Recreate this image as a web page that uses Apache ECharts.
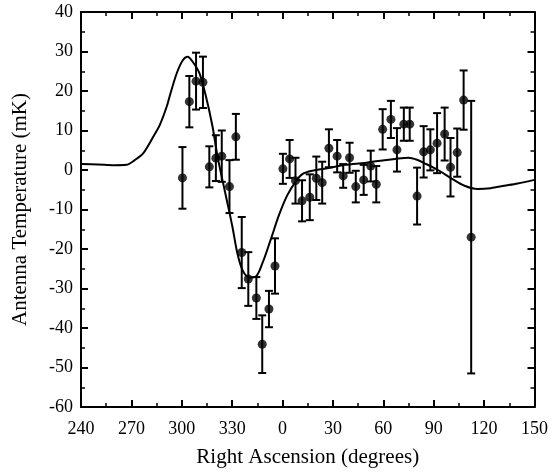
<!DOCTYPE html>
<html>
<head>
<meta charset="utf-8">
<script src="https://cdn.jsdelivr.net/npm/echarts@6/dist/echarts.min.js"></script>
<style>
    html, body { margin: 0; padding: 0; background: #fff; }
    #chart { width: 551px; height: 474px; }
</style>
</head>
<body>
<div id="chart"></div>
<script>
// 观测点：赤经（>360 表示跨过 0 度）、温度、误差
var raPoints = [300.4, 304.5, 308.5, 312.6, 316.4, 320.3, 323.8, 328.4, 332.2, 335.7,
    339.6, 344.4, 347.9, 351.9, 355.5, 360.2, 364.2, 367.7, 371.6, 376.2,
    380.1, 383.6, 387.6, 392.5, 396.1, 399.9, 403.6, 408.3, 412.5, 415.8,
    419.6, 424.5, 428.1, 432.2, 435.7, 440.1, 444, 448, 452, 456.5,
    460, 464, 467.8, 472.3];
var tempPoints = [-2, 17.3, 22.5, 22.2, 0.8, 3.0, 3.5, -4.2, 8.4, -20.9,
    -27.6, -32.4, -44.1, -35.2, -24.3, 0.3, 2.8, -2.7, -7.8, -6.9,
    -2.1, -3.2, 5.5, 3.5, -1.5, 3.1, -4.2, -2.5, 1.0, -3.6,
    10.3, 12.8, 5.1, 11.6, 11.6, -6.6, 4.6, 5.1, 6.8, 9.1,
    0.7, 4.4, 17.7, -17];
var errPoints = [7.8, 6.5, 7.2, 6.5, 5.2, 5.8, 6.5, 6.7, 5.8, 9,
    6.8, 5.3, 7.3, 4.6, 7, 3.8, 4.8, 5.8, 5.2, 5.8,
    5.5, 5.3, 4.8, 4.1, 3, 3.8, 4, 3.8, 3.9, 4.6,
    5.1, 4.7, 5.5, 4.2, 4.2, 7.2, 6.5, 5.2, 7.6, 6.7,
    7.4, 6.1, 7.5, 34.5];

// 模型曲线
var raCurve = [240, 250, 260, 267, 272, 277, 283, 287, 291, 293,
    297, 300.6, 303.5, 306.5, 310.5, 314.4, 318.3, 321.3, 324.2, 327.2,
    330.2, 333.1, 336.1, 340.1, 344, 348, 352.9, 357.8, 362.7, 367.7,
    372, 377.5, 387.4, 397.3, 409, 417, 427, 435, 440, 444.6,
    452.5, 460.4, 468.3, 476.2, 484, 492, 500, 510];
var tempCurve = [1.5, 1.4, 1.2, 1.3, 2.5, 4.2, 8.4, 11.5, 16, 19,
    24.5, 27.8, 28.7, 27.4, 24.5, 18.6, 11, 3.4, -2.5, -8.4,
    -14.5, -21.1, -25.3, -27.2, -27, -23.6, -17.7, -11.5, -6.5, -3,
    -1.0, -0.2, 0.5, 1.3, 1.8, 2.3, 2.8, 3.1, 2.6, 1.7,
    0, -2.1, -4.0, -4.8, -4.6, -4.0, -3.4, -2.5];

var FONT = '"Liberation Serif", "DejaVu Serif", serif';

var pointData = raPoints.map(function (x, i) { return [x, tempPoints[i]]; });
var errData = raPoints.map(function (x, i) {
    return [x, tempPoints[i] - errPoints[i], tempPoints[i] + errPoints[i]];
});
var curveData = raCurve.map(function (x, i) { return [x, tempCurve[i]]; });

function axisX(pos, showLabel) {
    return {
        type: 'value', position: pos, min: 240, max: 510, interval: 30,
        axisLine: { show: true, onZero: false, lineStyle: { color: '#000', width: 2 } },
        axisTick: { show: true, inside: true, length: 7, lineStyle: { color: '#000', width: 2 } },
        minorTick: { show: true, splitNumber: 2, length: 4, lineStyle: { color: '#000', width: 1.5 } },
        splitLine: { show: false },
        axisLabel: {
            show: showLabel, color: '#000', fontFamily: FONT, fontSize: 18, margin: 13,
            formatter: function (v) { return String(v % 360); }
        },
        name: showLabel ? 'Right Ascension (degrees)' : '',
        nameLocation: 'middle', nameGap: 40,
        nameTextStyle: { color: '#000', fontFamily: FONT, fontSize: 21 }
    };
}

function axisY(pos, showLabel) {
    return {
        type: 'value', position: pos, min: -60, max: 40, interval: 10,
        axisLine: { show: true, onZero: false, lineStyle: { color: '#000', width: 2 } },
        axisTick: { show: true, inside: true, length: 7, lineStyle: { color: '#000', width: 2 } },
        minorTick: { show: true, splitNumber: 2, length: 4, lineStyle: { color: '#000', width: 1.5 } },
        splitLine: { show: false },
        axisLabel: { show: showLabel, color: '#000', fontFamily: FONT, fontSize: 18, margin: 8 },
        name: showLabel ? 'Antenna Temperature (mK)' : '',
        nameLocation: 'middle', nameGap: 50,
        nameTextStyle: { color: '#000', fontFamily: FONT, fontSize: 21 }
    };
}

var myChart = echarts.init(document.getElementById('chart'));
var option = {
    backgroundColor: '#fff',
    animation: false,
    grid: { left: 81, right: 14, top: 12, bottom: 67 },
    xAxis: [axisX('bottom', true), axisX('top', false)],
    yAxis: [axisY('left', true), axisY('right', false)],
    series: [
        {
            type: 'line', data: curveData, smooth: 0.3, symbol: 'none',
            lineStyle: { color: '#000', width: 2 }, z: 2
        },
        {
            type: 'custom', data: errData, z: 3,
            renderItem: function (params, api) {
                var x = api.value(0);
                var lo = api.coord([x, api.value(1)]);
                var hi = api.coord([x, api.value(2)]);
                var w = 4;
                var st = { stroke: '#000', lineWidth: 2 };
                return {
                    type: 'group',
                    children: [
                        { type: 'line', shape: { x1: lo[0], y1: lo[1], x2: hi[0], y2: hi[1] }, style: st },
                        { type: 'line', shape: { x1: lo[0] - w, y1: lo[1], x2: lo[0] + w, y2: lo[1] }, style: st },
                        { type: 'line', shape: { x1: hi[0] - w, y1: hi[1], x2: hi[0] + w, y2: hi[1] }, style: st }
                    ]
                };
            }
        },
        {
            type: 'scatter', data: pointData, symbol: 'circle', symbolSize: 9,
            itemStyle: { color: '#000' }, z: 4
        }
    ]
};
myChart.setOption(option);
</script>
</body>
</html>
